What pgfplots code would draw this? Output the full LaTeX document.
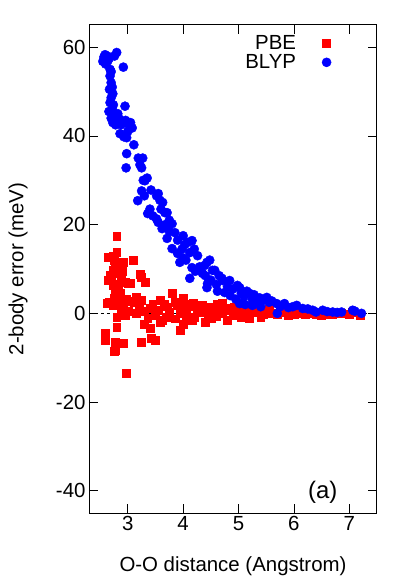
\documentclass[border=0pt]{standalone}
\usepackage{pgfplots}
\pgfplotsset{compat=1.18}
\usepackage{fontspec}
\setmainfont{Liberation Sans}

% BLYP two-body errors
\pgfplotstableread{
x y
2.55 56.8
2.57 57.8
2.59 58.3
2.60 56.2
2.62 57.5
2.63 58.0
2.64 56.9
2.66 57.4
2.68 55.0
2.80 58.8
2.76 58.0
2.70 54.5
2.68 53.5
2.70 52.0
2.72 51.0
2.67 50.5
2.73 49.5
2.70 48.6
2.68 47.5
2.74 47.0
2.72 46.0
2.66 45.5
2.76 44.6
2.70 44.0
2.73 43.0
2.78 42.5
2.82 45.0
2.85 43.8
2.92 55.5
2.88 42.5
2.95 46.7
2.96 43.5
3.02 42.5
3.08 41.8
3.05 43.0
3.00 41.0
2.86 40.5
2.93 39.8
2.98 39.6
3.11 38.0
2.98 36.0
2.97 32.8
3.19 35.0
3.27 35.0
3.25 32.8
3.22 33.5
3.31 29.9
3.35 30.5
3.28 30.0
3.42 27.8
3.25 27.6
3.18 25.4
3.30 26.5
3.36 22.5
3.40 23.5
3.45 22.0
3.52 26.5
3.55 27.0
3.58 25.5
3.63 25.0
3.60 23.5
3.52 21.3
3.55 20.5
3.62 19.1
3.68 20.0
3.67 22.7
3.71 22.7
3.75 21.0
3.80 20.2
3.85 18.2
3.71 16.9
3.75 18.5
3.80 14.6
3.90 16.5
3.90 13.5
3.98 14.5
4.00 17.5
4.03 15.5
4.08 16.0
4.12 13.7
4.16 16.4
4.20 14.5
4.26 13.0
3.94 11.5
4.00 12.5
4.05 12.0
4.16 10.3
4.12 7.9
4.22 9.5
4.30 10.5
4.35 9.0
4.39 10.8
4.43 11.5
4.48 12.0
4.40 8.5
4.53 9.7
4.57 9.7
4.65 8.5
4.43 5.8
4.44 6.7
4.50 7.5
4.60 6.5
4.62 5.0
4.70 7.9
4.71 7.4
4.75 4.7
4.80 6.0
4.84 7.4
4.85 4.0
4.90 5.5
4.95 3.2
4.98 6.3
5.02 5.8
5.05 4.5
5.10 3.8
5.02 2.2
5.12 2.0
5.15 5.0
5.20 4.5
5.25 3.2
5.25 1.8
5.28 4.2
5.33 2.5
5.38 3.5
5.40 1.5
5.45 3.0
5.51 3.6
5.55 2.5
5.60 2.8
5.69 2.2
5.70 0.0
5.75 1.5
5.83 2.2
5.90 1.3
5.98 1.5
6.05 1.8
6.16 1.1
6.25 1.0
6.34 0.7
6.40 0.3
6.52 0.7
6.60 0.4
6.70 0.3
6.78 0.2
6.86 0.3
7.06 0.7
7.10 0.5
7.22 0.0
}\blyp

% PBE two-body errors
\pgfplotstableread{
x y
2.80 17.5
2.73 13.0
2.80 13.7
2.64 12.6
2.76 12.0
3.09 11.9
2.91 11.5
2.85 10.5
2.78 10.0
2.73 9.7
2.90 9.5
2.83 9.0
2.68 8.5
2.64 7.4
2.70 7.9
2.88 8.0
2.95 7.0
2.73 6.3
2.82 6.5
3.00 6.7
3.04 6.7
3.25 8.1
3.31 7.0
3.22 8.8
2.78 5.0
2.86 4.5
2.75 3.5
2.93 3.0
2.62 2.2
2.67 2.5
2.73 1.8
2.84 2.0
2.91 2.5
2.98 3.3
3.05 2.8
3.16 3.6
3.12 2.5
3.25 3.0
3.20 1.5
3.40 1.1
3.45 2.0
3.58 2.9
3.65 2.0
3.72 1.5
3.80 4.5
3.85 2.5
3.90 1.8
4.00 3.4
4.03 2.0
4.10 1.5
4.18 2.2
4.25 1.0
4.34 1.8
4.40 0.8
4.48 1.5
4.55 1.0
4.62 2.0
4.71 2.2
4.78 1.2
4.85 0.8
4.92 1.5
5.00 0.5
5.08 0.8
5.15 0.2
5.25 0.5
5.35 0.3
5.45 -0.2
5.50 0.4
5.60 0.0
5.70 -0.3
5.80 0.2
5.90 -0.4
6.00 -0.2
6.10 0.0
6.20 -0.3
6.30 0.1
6.40 -0.2
6.50 -0.4
6.60 -0.1
6.70 -0.3
6.85 0.0
7.00 -0.2
7.05 0.2
7.20 -0.4
2.80 -0.9
2.80 -3.1
3.36 -1.1
3.40 -3.4
3.58 -2.0
3.63 -1.6
3.94 -3.8
4.17 -1.6
3.42 -5.6
2.60 -4.5
2.60 -6.1
2.77 -8.3
2.75 -8.5
2.77 -6.5
2.91 -6.7
3.25 -6.5
3.49 -6.1
2.97 -13.4
3.30 0.5
3.50 -0.5
3.70 -0.8
3.55 0.8
3.75 0.3
3.95 0.0
4.05 -0.5
4.20 -0.8
4.30 0.2
4.45 -0.3
4.60 -0.6
4.70 0.0
4.90 -0.5
5.05 -0.8
5.20 -1.0
4.50 -1.2
4.80 -1.5
5.40 -0.8
5.55 1.0
5.75 0.8
6.20 0.5
2.88 1.0
3.00 0.5
2.95 -0.5
3.15 0.0
3.30 -2.5
4.00 -2.5
4.40 -2.0
3.85 -1.2
}\pbe

\begin{document}
\begin{tikzpicture}
\useasboundingbox (-89bp,-68bp) rectangle (326bp,513bp);
\begin{axis}[
    scale only axis,
    width=288bp, height=488bp,
    xmin=2.3, xmax=7.5,
    ymin=-45, ymax=65,
    xtick={3,4,5,6,7},
    ytick={-40,-20,0,20,40,60},
    tick align=inside,
    major tick length=9bp,
    axis line style={line width=1pt},
    tick style={line width=0.8pt, black},
    font=\fontsize{20.5}{22}\selectfont,
    /pgf/number format/assume math mode=true,
    xlabel={O-O distance (Angstrom)},
    ylabel={2-body error (meV)},
    xlabel style={at={(axis description cs:0.5,-0.1086)}, anchor=center},
    ylabel style={at={(axis description cs:-0.2465,0.5)}, anchor=center},
    legend plot pos=right,
    legend cell align=right,
    legend style={at={(axis description cs:0.852,0.988)}, anchor=north east,
        draw=none, fill=none, row sep=0pt, column sep=24bp,
        font=\fontsize{20.5}{22}\selectfont},
]
\addplot[forget plot, black, dashed, line width=0.5pt] coordinates {(2.3,0) (7.5,0)};
\addplot[only marks, mark=square*, color=red, mark size=4pt] table {\pbe};
\addlegendentry{PBE}
\addplot[only marks, mark=*, color=blue, mark size=4.6pt] table {\blyp};
\addlegendentry{BLYP}
\node[font=\fontsize{24}{26}\selectfont] at (axis cs:6.52,-40.3) {(a)};
\end{axis}
\end{tikzpicture}
\end{document}
